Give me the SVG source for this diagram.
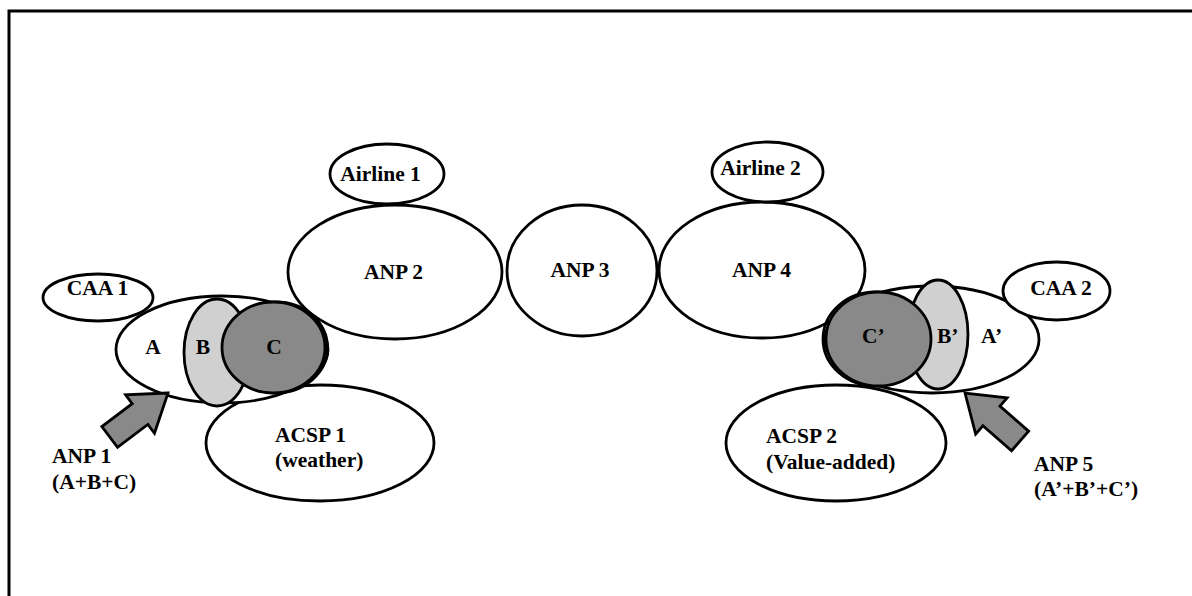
<svg xmlns="http://www.w3.org/2000/svg" width="1192" height="596" viewBox="0 0 1192 596">
  <defs>
    <style>
      .node { fill: #ffffff; stroke: #000000; stroke-width: 2.8; }
      .light { fill: #d0d0d0; stroke: #000000; stroke-width: 2.8; }
      .dark { fill: #898989; stroke: #000000; stroke-width: 2.8; }
      .edge { fill: none; stroke: #000000; stroke-width: 2.8; }
      .arrow { fill: #898989; stroke: #000000; stroke-width: 2.8; stroke-linejoin: miter; }
      text { font-family: "Liberation Serif", "Times New Roman", serif; font-weight: bold; font-size: 21.5px; fill: #000000; }
      .mid { text-anchor: middle; }
    </style>
    <!-- block arrow pointing along +x, tip at origin -->
    <polygon id="blockArrow" points="0,0 -35,-24 -35,-13 -73,-13 -73,13 -35,13 -35,24"/>
  </defs>

  <rect x="0" y="0" width="1192" height="596" fill="#ffffff"/>
  <!-- frame -->
  <rect x="9" y="11" width="1200" height="600" fill="none" stroke="#000000" stroke-width="3"/>

  <!-- central network -->
  <g id="anp2">
    <ellipse class="node" cx="395" cy="272" rx="107" ry="67"/>
    <text class="mid" x="393.5" y="279">ANP 2</text>
  </g>
  <g id="airline1">
    <ellipse class="node" cx="387" cy="174" rx="57" ry="30"/>
    <text class="mid" x="380.5" y="181">Airline 1</text>
  </g>
  <g id="anp3">
    <ellipse class="node" cx="582" cy="270.5" rx="75" ry="65.5"/>
    <text class="mid" x="580" y="277">ANP 3</text>
  </g>
  <g id="anp4">
    <ellipse class="node" cx="762" cy="270" rx="103" ry="68"/>
    <text class="mid" x="761.5" y="277">ANP 4</text>
  </g>
  <g id="airline2">
    <ellipse class="node" cx="767.5" cy="172" rx="55.5" ry="30"/>
    <text class="mid" x="760.5" y="175">Airline 2</text>
  </g>

  <!-- left side -->
  <g id="acsp1">
    <ellipse class="node" cx="320" cy="443" rx="114" ry="58"/>
    <text x="275" y="442">ACSP 1</text>
    <text x="275" y="467">(weather)</text>
  </g>
  <g id="caa1">
    <ellipse class="node" cx="98" cy="297.5" rx="55" ry="23.5"/>
    <text class="mid" x="97.5" y="295">CAA 1</text>
  </g>
  <g id="anp1">
    <ellipse class="node" cx="222" cy="349.5" rx="106" ry="53.5"/>
    <ellipse class="light" cx="217" cy="352.5" rx="33" ry="53.5"/>
    <ellipse class="edge" cx="276" cy="347.5" rx="51.5" ry="45.5"/>
    <ellipse class="dark" cx="273.5" cy="347.5" rx="51.5" ry="45.5"/>
    <text class="mid" x="153" y="354">A</text>
    <text class="mid" x="203" y="354">B</text>
    <text class="mid" x="274" y="354">C</text>
    <text x="52" y="463">ANP 1</text>
    <text x="52" y="489">(A+B+C)</text>
  </g>

  <!-- right side -->
  <g id="acsp2">
    <ellipse class="node" cx="836" cy="443" rx="110" ry="58"/>
    <text x="766" y="443">ACSP 2</text>
    <text x="766" y="469">(Value-added)</text>
  </g>
  <g id="anp5">
    <ellipse class="node" cx="932" cy="339.5" rx="107" ry="53.5"/>
    <ellipse class="light" cx="938" cy="334.5" rx="30" ry="54.5"/>
    <ellipse class="edge" cx="875.5" cy="339" rx="52.5" ry="47"/>
    <ellipse class="dark" cx="878.5" cy="339" rx="52.5" ry="47"/>
    <text x="862" y="343">C’</text>
    <text x="937" y="343">B’</text>
    <text x="981" y="343">A’</text>
    <text x="1034" y="471">ANP 5</text>
    <text x="1034" y="496">(A’+B’+C’)</text>
  </g>
  <g id="caa2">
    <ellipse class="node" cx="1056.5" cy="291" rx="53.5" ry="29"/>
    <text class="mid" x="1061" y="295">CAA 2</text>
  </g>

  <!-- connectors -->
  <g id="connectors">
    <use href="#blockArrow" class="arrow" transform="translate(168 393) rotate(-37)"/>
    <use href="#blockArrow" class="arrow" transform="translate(965 393) rotate(-139)"/>
  </g>
</svg>
